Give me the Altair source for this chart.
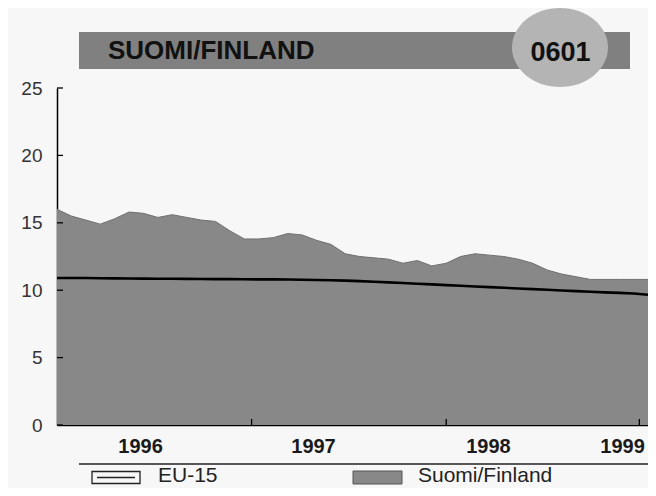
import altair as alt
import pandas as pd

# ---- data (month index 0 = Jan 1996) ----
months = list(range(42))
finland = [16.0, 15.5, 15.2, 14.9, 15.3, 15.8, 15.7, 15.4, 15.6, 15.4, 15.2, 15.1,
           14.4, 13.8, 13.8, 13.9, 14.2, 14.1, 13.7, 13.4, 12.7, 12.5, 12.4, 12.3,
           12.0, 12.2, 11.8, 12.0, 12.5, 12.7, 12.6, 12.5, 12.3, 12.0, 11.5, 11.2,
           11.0, 10.8, 10.8, 10.8, 10.8, 10.8]
eu15 = [10.9, 10.9, 10.9, 10.89, 10.88, 10.87, 10.86, 10.85, 10.85, 10.84, 10.83, 10.82,
        10.82, 10.81, 10.8, 10.8, 10.79, 10.78, 10.76, 10.74, 10.71, 10.67, 10.63, 10.58,
        10.53, 10.48, 10.43, 10.38, 10.33, 10.28, 10.23, 10.18, 10.13, 10.08, 10.03, 9.98,
        9.93, 9.88, 9.84, 9.8, 9.76, 9.66]
year_labels = ["1996", "1997", "1998", "1999"]
year_label_pos = [5.76, 17.76, 29.9, 39.2]
x_tick_pos = [13.5, 27.0, 40.4]
y_ticks = [0, 5, 10, 15, 20, 25]
title_text = ["SUOMI/FINLAND"]
code_text = ["0601"]
legend_labels = ["EU-15", "Suomi/Finland"]

FONT = "Liberation Sans"
AREA_GREY = "#888888"
BG = "#f7f7f7"

df = pd.DataFrame({"m": months, "finland": finland, "eu15": eu15})

label_expr = "".join(
    f"abs(datum.value - {p}) < 0.01 ? '{l}' : " for p, l in zip(year_label_pos, year_labels)
) + "''"

x_scale = alt.Scale(domain=[0, 41], nice=False, zero=False)
y_scale = alt.Scale(domain=[0, 25], nice=False)

x_axis = alt.Axis(values=year_label_pos, labelExpr=label_expr, ticks=False, grid=False,
                  domainColor="black", domainWidth=1.5, labelFont=FONT, labelFontSize=20,
                  labelFontWeight="bold", labelColor="#1a1a1a", labelPadding=11,
                  labelFlush=False, labelOverlap=False, title=None)
y_axis = alt.Axis(values=y_ticks, ticks=False, grid=False, domainColor="black",
                  domainWidth=1.5, labelFont=FONT, labelFontSize=19, labelColor="#333333",
                  labelPadding=15, labelFlush=False, title=None)

X = lambda f: alt.X(f, scale=x_scale, axis=x_axis)
Y = lambda f: alt.Y(f, scale=y_scale, axis=y_axis)

area = alt.Chart(df).mark_area(color=AREA_GREY, opacity=1, fillOpacity=1,
                               line={"color": "#6f6f6f", "strokeWidth": 1}).encode(
    x=X("m:Q"), y=Y("finland:Q"))
line = alt.Chart(df).mark_line(color="black", strokeWidth=2.6).encode(
    x=X("m:Q"), y=Y("eu15:Q"))

ytick = alt.Chart(pd.DataFrame({"yt": y_ticks})).mark_rule(color="black", strokeWidth=1.3).encode(
    y=Y("yt:Q"), x=alt.value(0), x2=alt.value(6))
xtick = alt.Chart(pd.DataFrame({"xt": x_tick_pos})).mark_rule(color="black", strokeWidth=1.3).encode(
    x=X("xt:Q"), y=alt.value(337), y2=alt.value(331))

# header banner
banner = alt.Chart(pd.DataFrame({"t": title_text})).mark_rect(color="#808080").encode(
    x=alt.value(22), x2=alt.value(573), y=alt.value(-56), y2=alt.value(-19))
ellipse_path = "M-1.215,0A1.215,1,0,1,1,1.215,0A1.215,1,0,1,1,-1.215,0Z"
badge = alt.Chart(pd.DataFrame({"t": code_text})).mark_point(
    shape=ellipse_path, size=6241, filled=True, color="#b4b4b4", opacity=1).encode(
    x=alt.value(503), y=alt.value(-40.5))
title = alt.Chart(pd.DataFrame({"t": title_text})).mark_text(
    font=FONT, fontSize=26, fontWeight="bold", color="#111111", align="left",
    baseline="middle").encode(text="t:N", x=alt.value(51), y=alt.value(-37.5))
code = alt.Chart(pd.DataFrame({"t": code_text})).mark_text(
    font=FONT, fontSize=27, fontWeight="bold", color="#111111", align="center",
    baseline="middle").encode(text="t:N", x=alt.value(503.5), y=alt.value(-35.5))

# legend
leg_rule = alt.Chart(pd.DataFrame({"t": legend_labels[:1]})).mark_rule(
    color="#222222", strokeWidth=1.3).encode(x=alt.value(22), x2=alt.value(591), y=alt.value(376))
eu_box = alt.Chart(pd.DataFrame({"t": legend_labels[:1]})).mark_rect(
    fill=BG, stroke="#222222", strokeWidth=1.3).encode(
    x=alt.value(35), x2=alt.value(83), y=alt.value(383.5), y2=alt.value(395.5))
eu_inner = alt.Chart(pd.DataFrame({"t": legend_labels[:1]})).mark_rule(
    color="#222222", strokeWidth=1.3).encode(x=alt.value(40), x2=alt.value(78), y=alt.value(389.5))
fi_box = alt.Chart(pd.DataFrame({"t": legend_labels[1:]})).mark_rect(
    fill=AREA_GREY, stroke="#555555", strokeWidth=1).encode(
    x=alt.value(296), x2=alt.value(345), y=alt.value(383), y2=alt.value(396))
leg_df = pd.DataFrame({"label": legend_labels, "lx": [101, 361]})
leg_text = alt.Chart(leg_df).mark_text(
    font=FONT, fontSize=21, color="#222222", align="left", baseline="middle").encode(
    text="label:N", x=alt.X("lx:Q", scale=None), y=alt.value(388))

chart = alt.layer(
    area, line, ytick, xtick, banner, badge, title, code,
    leg_rule, eu_box, eu_inner, fi_box, leg_text
).properties(
    width=591, height=337,
    padding={"left": 49, "top": 80, "right": 0, "bottom": 63},
    autosize=alt.AutoSizeParams(type="none"),
    background=BG,
).configure_view(strokeWidth=0)

chart.save("out.html", embed_options={"renderer": "svg", "actions": False})
